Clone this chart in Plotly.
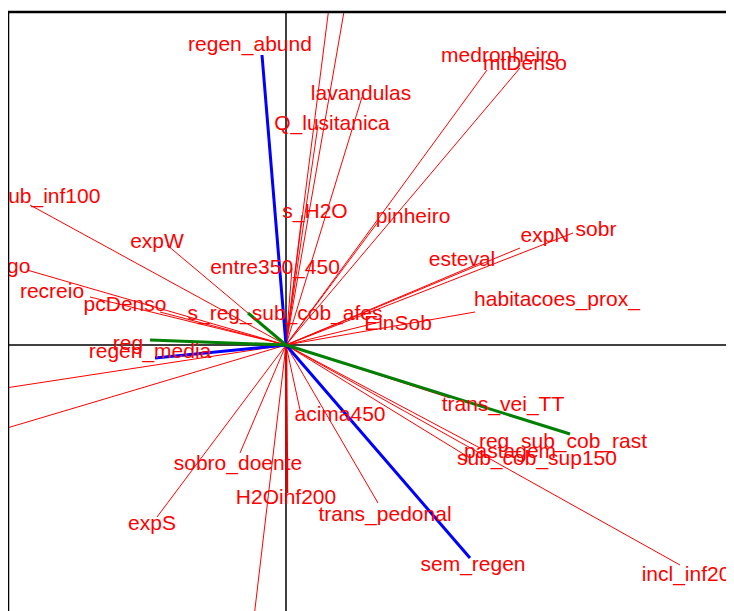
import plotly.graph_objects as go

# Environmental variables (red arrows): end point scores and label positions
env_names = ["lavandulas", "Q_lusitanica", "medronheiro", "mtDenso", "s_H2O", "pinheiro",
             "esteval", "expN", "sobr", "habitacoes_prox_", "EinSob", "entre350_450",
             "expW", "sub_inf100", "fogo", "recreio", "pcDenso", "sobro_doente", "expS",
             "H2Oinf200", "acima450", "trans_pedonal", "trans_vei_TT", "pastagem",
             "sub_cob_sup150", "incl_inf20", "", "", "", "", ""]
env_x = [0.76, 0.32, 2.01, 2.34, 0.16, 0.92, 1.94, 2.34, 2.87, 1.89, 0.94, 0.06,
         -1.19, -2.56, -2.59, -1.96, -1.26, -0.46, -1.29, 0.01, 0.14, 0.92, 1.64, 1.94,
         1.79, 3.94, 0.49, 0.67, -3.26, -3.26, -0.37]
env_y = [2.48, 2.20, 2.75, 2.77, 1.30, 1.23, 0.82, 0.97, 1.12, 0.33, 0.23, 0.77,
         1.00, 1.40, 0.75, 0.48, 0.33, -1.08, -1.72, -1.48, -0.65, -1.58, -0.53, -1.03,
         -1.10, -2.20, 3.85, 3.85, -0.50, -0.97, -3.15]
env_lx = [0.75, 0.46, 2.14, 2.39, 0.29, 1.27, 1.76, 2.59, 3.10, 2.71, 1.12, -0.11,
          -1.29, -2.37, -2.76, -2.34, -1.61, -0.48, -1.34, 0.00, 0.54, 0.99, 2.17, 2.24,
          2.51, 4.00, 0.49, 0.67, -3.26, -3.26, -0.37]
env_ly = [2.53, 2.23, 2.91, 2.83, 1.35, 1.30, 0.87, 1.11, 1.17, 0.47, 0.23, 0.79,
          1.05, 1.50, 0.80, 0.55, 0.42, -1.17, -1.77, -1.51, -0.68, -1.68, -0.58, -1.05,
          -1.12, -2.28, 3.85, 3.85, -0.50, -0.97, -3.15]

# Green arrows
grn_names = ["reg", "s_reg_sub_cob_afes", "reg_sub_cob_rast"]
grn_x = [-1.36, -0.38, 2.84]
grn_y = [0.05, 0.32, -0.89]
grn_lx = [-1.58, -0.01, 2.77]
grn_ly = [0.03, 0.33, -0.95]

# Blue arrows (regeneration)
blu_names = ["regen_abund", "regen_media", "sem_regen"]
blu_x = [-0.24, -1.31, 1.84]
blu_y = [2.90, -0.13, -2.13]
blu_lx = [-0.36, -1.36, 1.87]
blu_ly = [3.02, -0.05, -2.18]

LABEL_DY = -0.025  # small vertical nudge so text centres sit like the reference


def segs(xs, ys):
    sx, sy = [], []
    for x, y in zip(xs, ys):
        sx += [0, x, None]
        sy += [0, y, None]
    return sx, sy


fig = go.Figure()

ex, ey = segs(env_x, env_y)
fig.add_trace(go.Scatter(x=ex, y=ey, mode="lines", line=dict(color="#ff0000", width=1),
                         hoverinfo="skip", showlegend=False))
# H2Oinf200 drawn thicker along the axis
i = env_names.index("H2Oinf200")
fig.add_trace(go.Scatter(x=[0, env_x[i]], y=[0, env_y[i]], mode="lines",
                         line=dict(color="#e00000", width=2.5), hoverinfo="skip", showlegend=False))
bx, by = segs(blu_x, blu_y)
fig.add_trace(go.Scatter(x=bx, y=by, mode="lines", line=dict(color="#ff0000", width=1),
                         hoverinfo="skip", showlegend=False))
fig.add_trace(go.Scatter(x=bx, y=by, mode="lines", line=dict(color="#0000ff", width=3),
                         hoverinfo="skip", showlegend=False))
gx, gy = segs(grn_x, grn_y)
fig.add_trace(go.Scatter(x=gx, y=gy, mode="lines", line=dict(color="#008000", width=3),
                         hoverinfo="skip", showlegend=False))

font = dict(family="Liberation Sans, Arial", size=21, color="#ff0000")
for nm, lx, ly in [(env_names, env_lx, env_ly), (grn_names, grn_lx, grn_ly), (blu_names, blu_lx, blu_ly)]:
    fig.add_trace(go.Scatter(x=lx, y=[v + LABEL_DY for v in ly], text=nm, mode="text",
                             textposition="middle center", textfont=font, cliponaxis=True,
                             hoverinfo="skip", showlegend=False))

fig.update_layout(
    width=726, height=603,
    margin=dict(l=0, r=0, t=4, b=0),
    paper_bgcolor="white", plot_bgcolor="white",
    xaxis=dict(range=[-2.78, 4.48], visible=False, fixedrange=True),
    yaxis=dict(range=[-2.66, 3.33], visible=False, fixedrange=True),
    shapes=[
        dict(type="line", xref="x", yref="paper", x0=0, x1=0, y0=0, y1=1,
             line=dict(color="#404040", width=2), layer="below"),
        dict(type="line", xref="paper", yref="y", x0=0, x1=1, y0=0, y1=0,
             line=dict(color="#000000", width=1.5), layer="below"),
        dict(type="line", xref="paper", yref="paper", x0=0, x1=0, y0=0, y1=1,
             line=dict(color="#000000", width=2.5)),
        dict(type="line", xref="paper", yref="paper", x0=0, x1=1, y0=1, y1=1,
             line=dict(color="#000000", width=2.5)),
    ],
)

fig.write_html("out.html")
